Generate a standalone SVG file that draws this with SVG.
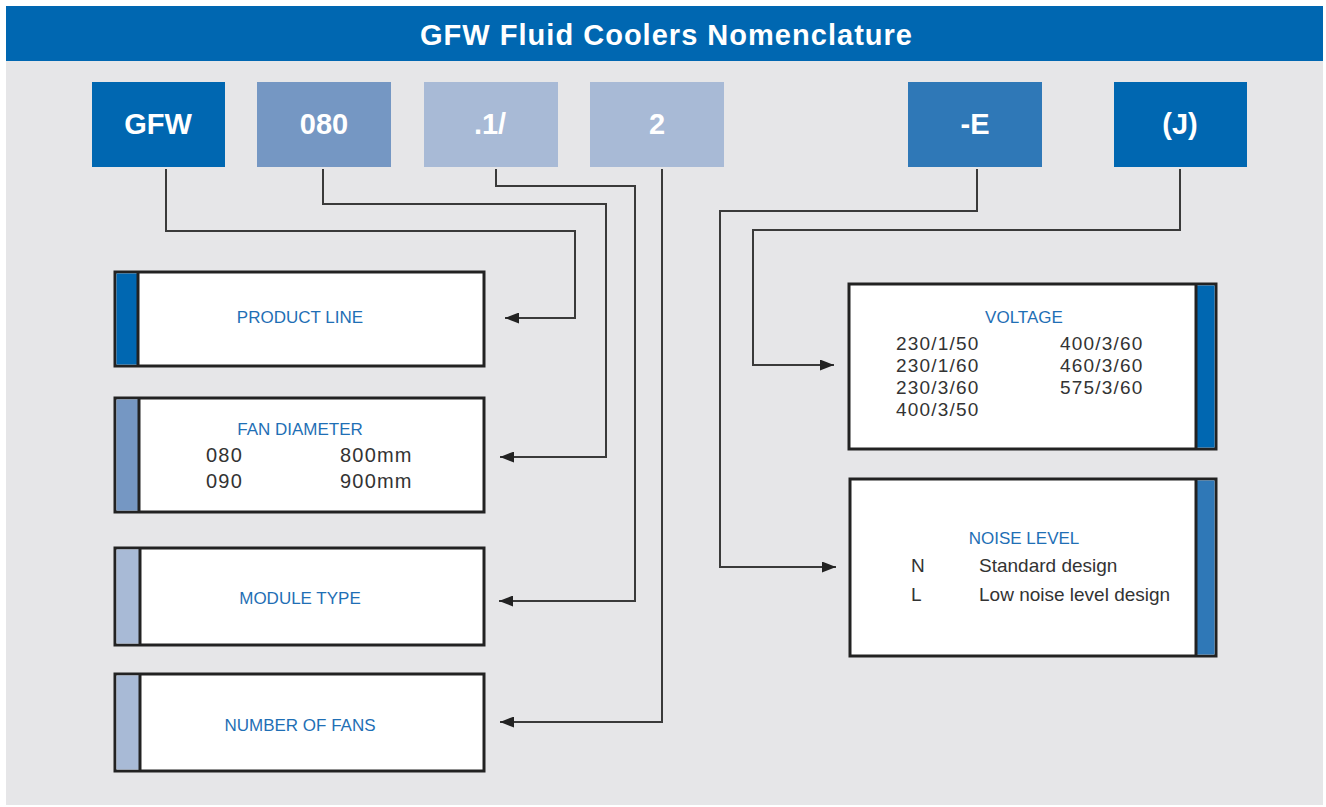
<svg xmlns="http://www.w3.org/2000/svg" width="1326" height="807" viewBox="0 0 1326 807">
<style>
.code{font-family:"Liberation Sans",Arial,sans-serif;font-weight:bold;font-size:29px;fill:#fff;text-anchor:middle}
.lbl{font-family:"Liberation Sans",Arial,sans-serif;font-size:17px;fill:#1f6fb5;text-anchor:middle}
.val{font-family:"Liberation Sans",Arial,sans-serif;font-size:19px;fill:#333;letter-spacing:1.2px}
.fv{font-family:"Liberation Sans",Arial,sans-serif;font-size:20px;fill:#333;letter-spacing:1.2px}
.txt{font-family:"Liberation Sans",Arial,sans-serif;font-size:19px;fill:#333}
.box{fill:#fff;stroke:#222;stroke-width:3}
.sep{stroke:#222;stroke-width:3}
.conn{fill:none;stroke:#3a3a3a;stroke-width:2}
</style>
<defs>
<marker id="arr" markerUnits="userSpaceOnUse" markerWidth="15" markerHeight="11" refX="14" refY="5.5" orient="auto">
<path d="M0,0 L14,5.5 L0,11 z" fill="#222"/>
</marker>
</defs>
<rect x="0" y="0" width="1326" height="807" fill="#fff"/>
<rect x="6" y="6" width="1317" height="799" fill="#e6e6e8"/>
<rect x="6" y="6" width="1317" height="55" fill="#0067b1"/>
<text x="666" y="45" font-family="Liberation Sans,Arial,sans-serif" font-weight="bold" font-size="29" fill="#fff" text-anchor="middle" textLength="492" lengthAdjust="spacing">GFW Fluid Coolers Nomenclature</text>

<g id="code-gfw"><rect x="92" y="82" width="133" height="85" fill="#0067b1"/><text class="code" x="158" y="134">GFW</text></g>
<g id="code-080"><rect x="257" y="82" width="134" height="85" fill="#7597c3"/><text class="code" x="324" y="134">080</text></g>
<g id="code-module"><rect x="424" y="82" width="134" height="85" fill="#a8bad6"/><text class="code" x="490" y="134">.1/</text></g>
<g id="code-fans"><rect x="590" y="82" width="134" height="85" fill="#a8bad6"/><text class="code" x="657" y="134">2</text></g>
<g id="code-e"><rect x="908" y="82" width="134" height="85" fill="#2f78b7"/><text class="code" x="975" y="134">-E</text></g>
<g id="code-j"><rect x="1114" y="82" width="133" height="85" fill="#0067b1"/><text class="code" x="1180" y="134">(J)</text></g>

<g id="connectors">
<path class="conn" d="M166 169 V231 H575 V318 H505" marker-end="url(#arr)"/>
<path class="conn" d="M323 169 V204 H606 V457 H500" marker-end="url(#arr)"/>
<path class="conn" d="M496 169 V186 H635 V601 H499" marker-end="url(#arr)"/>
<path class="conn" d="M662 169 V722 H500" marker-end="url(#arr)"/>
<path class="conn" d="M977 169 V211 H720 V567 H836" marker-end="url(#arr)"/>
<path class="conn" d="M1180 169 V230 H753 V365 H834" marker-end="url(#arr)"/>
</g>

<g id="product-line">
<rect class="box" x="115" y="272" width="369" height="94"/>
<rect x="116.5" y="273.5" width="21" height="91" fill="#0067b1"/>
<line class="sep" x1="138" y1="272" x2="138" y2="366"/>
<text class="lbl" x="300" y="323">PRODUCT LINE</text>
</g>

<g id="fan-diameter">
<rect class="box" x="115" y="398" width="369" height="114"/>
<rect x="116.5" y="399.5" width="22" height="111" fill="#7597c3"/>
<line class="sep" x1="139" y1="398" x2="139" y2="512"/>
<text class="lbl" x="300" y="435">FAN DIAMETER</text>
<text class="fv" x="206" y="462">080</text>
<text class="fv" x="340" y="462">800mm</text>
<text class="fv" x="206" y="488">090</text>
<text class="fv" x="340" y="488">900mm</text>
</g>

<g id="module-type">
<rect class="box" x="115" y="548" width="369" height="97"/>
<rect x="116.5" y="549.5" width="23" height="94" fill="#a8bad6"/>
<line class="sep" x1="140" y1="548" x2="140" y2="645"/>
<text class="lbl" x="300" y="604">MODULE TYPE</text>
</g>

<g id="number-of-fans">
<rect class="box" x="115" y="674" width="369" height="97"/>
<rect x="116.5" y="675.5" width="23" height="94" fill="#a8bad6"/>
<line class="sep" x1="140" y1="674" x2="140" y2="771"/>
<text class="lbl" x="300" y="731">NUMBER OF FANS</text>
</g>

<g id="voltage">
<rect class="box" x="849" y="284" width="367" height="165"/>
<rect x="1196" y="285.5" width="18.5" height="162" fill="#0067b1"/>
<line class="sep" x1="1196" y1="284" x2="1196" y2="449"/>
<text class="lbl" x="1024" y="323">VOLTAGE</text>
<text class="val" x="896" y="350">230/1/50</text>
<text class="val" x="896" y="372">230/1/60</text>
<text class="val" x="896" y="394">230/3/60</text>
<text class="val" x="896" y="416">400/3/50</text>
<text class="val" x="1060" y="350">400/3/60</text>
<text class="val" x="1060" y="372">460/3/60</text>
<text class="val" x="1060" y="394">575/3/60</text>
</g>

<g id="noise-level">
<rect class="box" x="850" y="479" width="366" height="177"/>
<rect x="1196" y="480.5" width="18.5" height="174" fill="#2f78b7"/>
<line class="sep" x1="1196" y1="479" x2="1196" y2="656"/>
<text class="lbl" x="1024" y="544">NOISE LEVEL</text>
<text class="txt" x="911" y="572">N</text>
<text class="txt" x="979" y="572">Standard design</text>
<text class="txt" x="911" y="601">L</text>
<text class="txt" x="979" y="601">Low noise level design</text>
</g>
</svg>
